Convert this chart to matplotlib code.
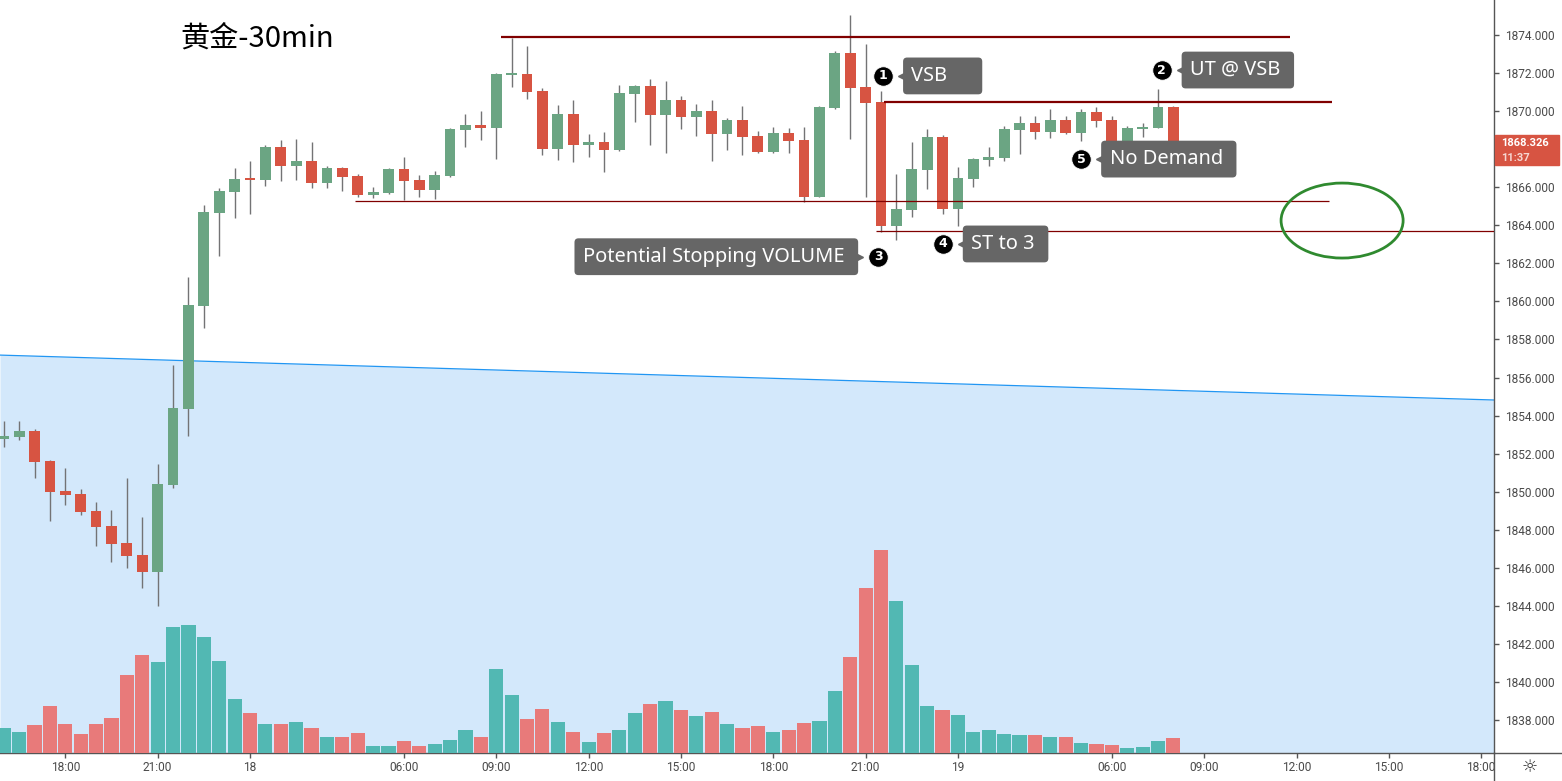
import numpy as np
import pandas as pd
import matplotlib
matplotlib.use('Agg')
import matplotlib.pyplot as plt
from matplotlib.patches import Ellipse, Rectangle
from matplotlib.lines import Line2D
from matplotlib.transforms import offset_copy

# --- data (30-min bars) ---
OPEN = [1852.79, 1852.89, 1853.19, 1851.61, 1850.04, 1849.88, 1848.99, 1848.20, 1847.31, 1846.67,
        1845.78, 1850.35, 1854.35, 1859.78, 1864.66, 1865.75, 1866.43, 1866.38, 1868.11, 1867.12,
        1867.38, 1866.22, 1867.01, 1866.59, 1865.59, 1865.70, 1866.96, 1866.38, 1865.85, 1866.59,
        1869.01, 1869.27, 1869.11, 1871.92, 1871.95, 1871.06, 1868.01, 1869.85, 1868.22, 1868.38,
        1867.96, 1870.90, 1871.32, 1869.80, 1870.58, 1869.69, 1870.01, 1868.80, 1869.53, 1868.69,
        1867.85, 1868.85, 1868.48, 1865.49, 1870.16, 1873.05, 1871.27, 1870.48, 1863.96, 1864.80,
        1866.91, 1868.64, 1864.86, 1866.43, 1867.43, 1867.54, 1869.01, 1869.38, 1868.90, 1869.53,
        1868.85, 1869.95, 1869.53, 1868.43, 1869.06, 1869.11, 1870.22]
HIGH = [1853.72, 1853.72, 1853.30, 1851.65, 1851.25, 1850.14, 1849.46, 1849.04, 1850.72, 1848.67,
        1851.46, 1856.66, 1861.30, 1865.07, 1865.96, 1867.01, 1867.38, 1868.22, 1868.48, 1868.53,
        1868.38, 1867.12, 1867.06, 1866.70, 1866.01, 1867.01, 1867.59, 1866.64, 1866.85, 1869.11,
        1869.85, 1870.01, 1872.00, 1873.86, 1873.42, 1871.21, 1870.32, 1870.58, 1868.80, 1868.90,
        1871.37, 1871.37, 1871.69, 1871.58, 1870.79, 1870.37, 1870.58, 1869.64, 1870.27, 1868.96,
        1869.17, 1869.11, 1869.17, 1870.27, 1873.16, 1875.05, 1873.53, 1871.06, 1866.70, 1868.38,
        1869.06, 1868.75, 1867.06, 1867.54, 1868.11, 1869.22, 1869.74, 1869.74, 1870.11, 1869.74,
        1870.11, 1870.22, 1869.74, 1869.22, 1869.38, 1871.16, 1870.27]
LOW = [1852.37, 1852.72, 1850.72, 1848.46, 1849.30, 1848.78, 1847.15, 1846.31, 1845.99, 1844.94,
       1843.99, 1850.20, 1852.93, 1858.62, 1862.39, 1864.38, 1864.59, 1866.07, 1866.33, 1866.38,
       1865.96, 1865.96, 1865.80, 1865.49, 1865.43, 1865.67, 1865.33, 1865.49, 1865.38, 1866.54,
       1868.11, 1868.48, 1867.48, 1871.27, 1870.64, 1867.69, 1867.43, 1867.33, 1867.59, 1866.80,
       1867.90, 1869.43, 1868.22, 1867.80, 1869.06, 1868.69, 1867.38, 1867.96, 1867.69, 1867.80,
       1867.80, 1867.80, 1865.22, 1865.49, 1870.11, 1868.53, 1865.49, 1863.65, 1863.23, 1864.44,
       1865.91, 1864.59, 1863.96, 1866.01, 1867.12, 1867.38, 1867.75, 1868.53, 1868.59, 1868.82,
       1868.43, 1869.17, 1868.27, 1868.38, 1868.64, 1869.11, 1868.30]
CLOSE = [1852.93, 1853.19, 1851.56, 1849.99, 1849.83, 1848.93, 1848.15, 1847.25, 1846.62, 1845.78,
         1850.41, 1854.40, 1859.81, 1864.70, 1865.80, 1866.43, 1866.40, 1868.11, 1867.12, 1867.38,
         1866.22, 1867.01, 1866.54, 1865.59, 1865.75, 1866.96, 1866.33, 1865.85, 1866.64, 1869.06,
         1869.27, 1869.11, 1871.95, 1871.95, 1871.02, 1868.01, 1869.85, 1868.22, 1868.38, 1867.96,
         1870.95, 1871.32, 1869.80, 1870.58, 1869.69, 1870.01, 1868.80, 1869.53, 1868.64, 1867.85,
         1868.85, 1868.43, 1865.49, 1870.22, 1873.05, 1871.21, 1870.43, 1863.96, 1864.86, 1866.96,
         1868.64, 1864.86, 1866.49, 1867.48, 1867.59, 1869.06, 1869.38, 1868.90, 1869.53, 1868.85,
         1869.95, 1869.48, 1868.43, 1869.11, 1869.17, 1870.22, 1868.326]
VOLUME = [25, 21, 28, 47, 29, 19, 29, 35, 78, 98, 91, 126, 128, 116, 92, 54, 40, 29, 29, 31,
          25, 16, 16, 20, 7, 7, 12, 7, 9, 13, 23, 16, 84, 58, 34, 44, 31, 21, 11, 20,
          23, 40, 49, 52, 43, 37, 41, 29, 25, 27, 21, 23, 30, 32, 62, 96, 165, 203, 152, 88,
          47, 43, 38, 21, 23, 19, 18, 18, 16, 16, 10, 9, 8, 5, 6, 12, 15]

FIRST_BAR = '2020-11-17 16:00'
LAST_AXIS_TIME = '2020-11-19 18:00'
BREAK_HOUR = 5            # daily session break, no bars 05:00-05:59
TICK_HOURS = [0, 6, 9, 12, 15, 18, 21]
PRICE_TICKS = list(range(1838, 1876, 2))

# drawn levels: price, first bar, last bar
LEVEL_PRICE = [1873.92, 1870.48, 1865.30, 1863.70]
LEVEL_START = [32.3, 57.2, 22.8, 56.7]
LEVEL_END = [83.6, 86.3, 86.1, None]
LEVEL_WIDTH = [1.6, 1.6, 0.9, 0.9]

TREND_PRICE = [1857.18, 1854.82]   # blue line at left / right edge

CALLOUT_NUM = ['1', '2', '3', '4', '5']
CALLOUT_TEXT = ['VSB     ', 'UT @ VSB ', 'Potential Stopping VOLUME ', 'ST to 3 ', 'No Demand ']
CALLOUT_X = [57.13, 75.23, 56.82, 61.01, 70.0]
CALLOUT_Y = [1871.85, 1872.16, 1862.35, 1863.02, 1867.48]
CALLOUT_SIDE = [1, 1, -1, 1, 1]

LAST_PRICE_TIMER = '11:37'

GREEN = '#6ba583'
RED = '#d75442'
VOL_GREEN = '#52b8b3'
VOL_RED = '#e87a7a'
WICK = '#737375'
LEVEL_COLOR = '#800000'
AXIS_GRAY = '#555555'
LABEL_GRAY = '#4a4a4a'

# --- time axis ---
times = pd.date_range(FIRST_BAR, LAST_AXIS_TIME, freq='30min')
times = times[times.hour != BREAK_HOUR]
idx = np.arange(len(times))
n = len(CLOSE)
o, h, l, c = map(np.array, (OPEN, HIGH, LOW, CLOSE))
up = c >= o

W, H = 1562, 781
fig = plt.figure(figsize=(W / 100, H / 100), dpi=100)
ax = fig.add_axes([0, 28 / H, 1494 / W, 753 / H])
xlim = (-0.244, 96.83)
ylim = (1836.27, 1875.84)
ax.set_xlim(xlim)
ax.set_ylim(ylim)

# blue trend line + shaded area under it
ax.fill_between(xlim, TREND_PRICE, ylim[0], color='#d3e8fb', lw=0, zorder=0)
ax.plot(xlim, TREND_PRICE, color='#2196f3', lw=0.9, zorder=1)

# candles
ax.vlines(idx[:n], l, h, color=WICK, lw=1.0, zorder=2)
body_lo = np.minimum(o, c)
body_h = np.maximum(np.abs(c - o), 0.06)
ax.bar(idx[:n], body_h, bottom=body_lo, width=0.7,
       color=np.where(up, GREEN, RED), lw=0, zorder=3)

# horizontal levels
for p, x0, x1, lw in zip(LEVEL_PRICE, LEVEL_START, LEVEL_END, LEVEL_WIDTH):
    ax.hlines(p, x0, xlim[1] if x1 is None else x1, color=LEVEL_COLOR, lw=lw, zorder=4)

ax.add_patch(Ellipse((86.96, 1864.25), 7.93, 3.94, fill=False,
                     ec='#2f8a2f', lw=2.0, zorder=4))

# callouts
for num, txt, cx, cy, side in zip(CALLOUT_NUM, CALLOUT_TEXT, CALLOUT_X, CALLOUT_Y, CALLOUT_SIDE):
    ax.plot(cx, cy, 'o', ms=14, color='black', mec='white', mew=0.6, zorder=6)
    ax.text(cx, cy, num, color='white', ha='center', va='center', fontsize=9,
            fontweight='bold', family='DejaVu Sans', zorder=7)
    ax.plot(cx, cy, marker='<' if side > 0 else '>', ms=5.5, color='#666666', zorder=5,
            transform=offset_copy(ax.transData, fig, x=side * 13.8, y=0, units='points'))
    ax.annotate(txt, (cx, cy), xytext=(side * 20.5, 0), textcoords='offset points',
                ha='left' if side > 0 else 'right', va='center', color='white',
                fontsize=14.4, family='Noto Sans', zorder=6,
                bbox=dict(boxstyle='round,pad=0.42,rounding_size=0.2', fc='#666666', ec='none'))

# volume on its own overlay scale
axv = ax.twinx()
axv.set_ylim(0, max(VOLUME) / 0.2696)
axv.bar(idx[:n], VOLUME, width=0.92, color=np.where(up, VOL_GREEN, VOL_RED), lw=0)
axv.axis('off')

# axes styling
for s in ['top', 'left']:
    ax.spines[s].set_visible(False)
for s in ['right', 'bottom']:
    ax.spines[s].set_color(AXIS_GRAY)
    ax.spines[s].set_linewidth(1.0)
last = CLOSE[-1]
ax.yaxis.tick_right()
ax.set_yticks(PRICE_TICKS)
# the tick under the last-price tag is hidden by the tag
ax.set_yticklabels(['' if abs(v - last) < 1 else f'{v:.3f}' for v in PRICE_TICKS])
tick_pos = [i for i, t in enumerate(times) if t.minute == 0 and t.hour in TICK_HOURS]
tick_lab = [times[i].strftime('%d') if times[i].hour == 0 else times[i].strftime('%H:%M')
            for i in tick_pos]
ax.set_xticks(tick_pos)
ax.set_xticklabels(tick_lab)
ax.tick_params(axis='both', colors=AXIS_GRAY, labelcolor=LABEL_GRAY, labelsize=8.6,
               length=3.6, width=1.0)
ax.tick_params(axis='y', pad=4.5)
ax.tick_params(axis='x', pad=2.5)
for lab in ax.get_xticklabels() + ax.get_yticklabels():
    lab.set_family('Roboto')

# last price tag
ytr = ax.get_yaxis_transform()
ax.add_patch(Rectangle((1.0007, last - 1.18), 0.0428, 1.6, transform=ytr,
                       color=RED, clip_on=False, zorder=8))
ax.text(1.0047, last + 0.02, f'{last:.3f}', transform=ytr, color='white', fontsize=8,
        fontweight='bold', family='Roboto', va='center', ha='left', zorder=9)
ax.text(1.0047, last - 0.80, LAST_PRICE_TIMER, transform=ytr, color='#f6d6d1', fontsize=8,
        fontweight='bold', family='Roboto', va='center', ha='left', zorder=9)

# axis lines that run past the plot area
fig.add_artist(Line2D([1494 / W, 1494 / W], [0, 28 / H], color=AXIS_GRAY, lw=1.0))
fig.add_artist(Line2D([1494 / W, 1], [28 / H, 28 / H], color=AXIS_GRAY, lw=1.0))

fig.text(180 / W, 1 - 38.5 / H, '黄金-30min', fontsize=21, va='center', ha='left',
         family=['Noto Sans CJK SC', 'DejaVu Sans'], color='black')
fig.text(1530 / W, 1 - 767 / H, '☼', fontsize=13, va='center', ha='center',
         family='DejaVu Sans', color='#333333')

fig.savefig('out.png', dpi=100)
